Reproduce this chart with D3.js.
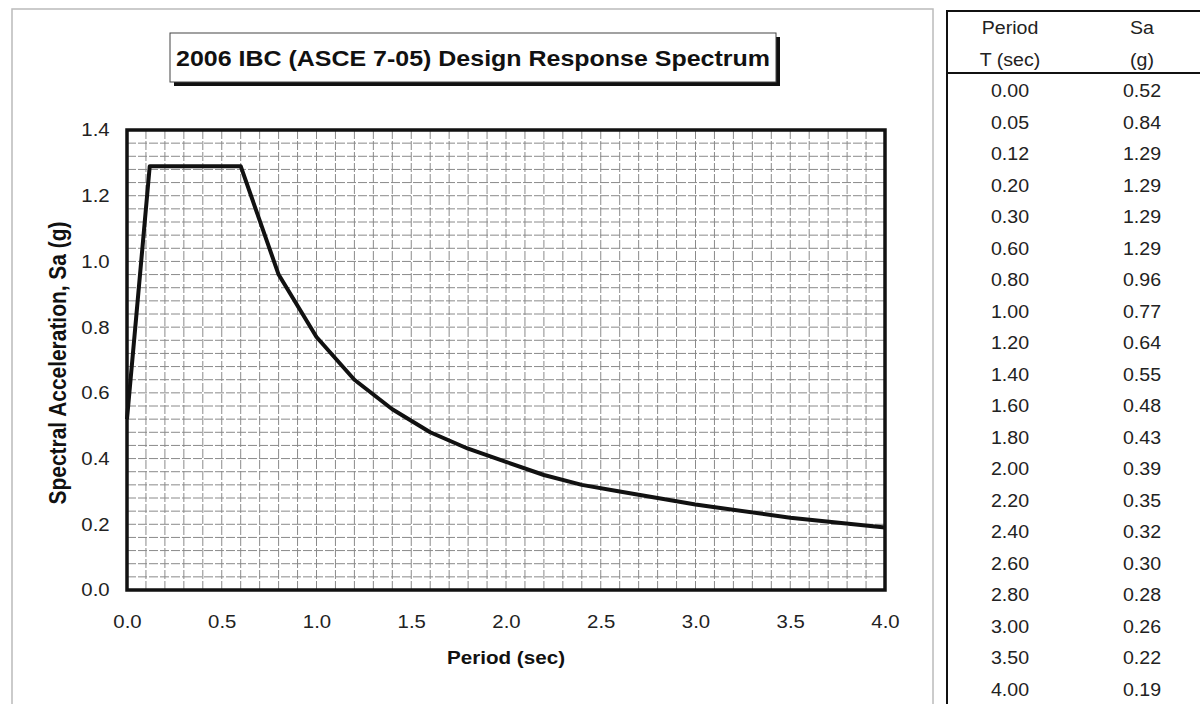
<!DOCTYPE html>
<html><head><meta charset="utf-8">
<script src="https://cdn.jsdelivr.net/npm/d3@7"></script>
<style>body{margin:0;background:#fff;} svg{display:block;font-family:"Liberation Sans",Arial,sans-serif;}</style>
</head><body>
<svg id="c" width="1200" height="704"></svg>
<script>
const periods = [0.00,0.05,0.12,0.20,0.30,0.60,0.80,1.00,1.20,1.40,1.60,1.80,2.00,2.20,2.40,2.60,2.80,3.00,3.50,4.00];
const saValues = [0.52,0.84,1.29,1.29,1.29,1.29,0.96,0.77,0.64,0.55,0.48,0.43,0.39,0.35,0.32,0.30,0.28,0.26,0.22,0.19];
const tablePeriods = ["0.00","0.05","0.12","0.20","0.30","0.60","0.80","1.00","1.20","1.40","1.60","1.80","2.00","2.20","2.40","2.60","2.80","3.00","3.50","4.00"];
const tableSa = ["0.52","0.84","1.29","1.29","1.29","1.29","0.96","0.77","0.64","0.55","0.48","0.43","0.39","0.35","0.32","0.30","0.28","0.26","0.22","0.19"];
const tableHeaders = [["Period","T (sec)"],["Sa","(g)"]];
const xTicks = [0.0,0.5,1.0,1.5,2.0,2.5,3.0,3.5,4.0];
const yTicks = [0.0,0.2,0.4,0.6,0.8,1.0,1.2,1.4];
const titleText = "2006 IBC (ASCE 7-05) Design Response Spectrum";
const xTitle = "Period (sec)";
const yTitle = "Spectral Acceleration, Sa (g)";

const svg = d3.select("#c");
const L = 127, R = 885, T = 130, B = 590;
const x = d3.scaleLinear().domain([0,4]).range([L,R]);
const y = d3.scaleLinear().domain([0,1.4]).range([B,T]);
const SX = 1.1;

// outer chart frame
svg.append("rect").attr("x",12).attr("y",9).attr("width",921).attr("height",710)
  .attr("fill","none").attr("stroke","#bbb").attr("stroke-width",1.5);

// grid
const g = svg.append("g");
g.selectAll("line.vx").data(d3.range(1,40).map(i=>i*0.1)).enter().append("line")
  .attr("x1",d=>x(d)).attr("x2",d=>x(d)).attr("y1",T).attr("y2",B)
  .attr("stroke","#8a8a8a").attr("stroke-width",1).attr("stroke-dasharray","9,2");
g.selectAll("line.hy").data(d3.range(1,35).map(i=>i*0.04)).enter().append("line")
  .attr("x1",L).attr("x2",R).attr("y1",d=>y(d)).attr("y2",d=>y(d))
  .attr("stroke","#8a8a8a").attr("stroke-width",1).attr("stroke-dasharray","9,2");

// plot border
svg.append("rect").attr("x",L).attr("y",T).attr("width",R-L).attr("height",B-T)
  .attr("fill","none").attr("stroke","#111").attr("stroke-width",3.5);

// axes labels via d3 axes
const xa = svg.append("g").attr("transform",`translate(0,${B+12})`)
  .call(d3.axisBottom(x).tickValues(xTicks).tickFormat(d3.format(".1f")).tickSize(0).tickPadding(13));
const ya = svg.append("g").attr("transform",`translate(114,0)`)
  .call(d3.axisLeft(y).tickValues(yTicks).tickFormat(d3.format(".1f")).tickSize(0).tickPadding(4));
[xa,ya].forEach(a=>{a.select(".domain").remove();
  a.selectAll("text").attr("font-size",18.5).attr("fill","#222")
   .attr("font-family","Liberation Sans, Arial, sans-serif").attr("transform",`scale(${SX},1)`);});
xa.selectAll("text").attr("dy","0").attr("y",26);

// line
svg.append("path").datum(periods.map((p,i)=>[p,saValues[i]]))
  .attr("d",d3.line().x(d=>x(d[0])).y(d=>y(d[1])))
  .attr("fill","none").attr("stroke","#111").attr("stroke-width",4).attr("stroke-linejoin","round");

// title box with shadow
svg.append("rect").attr("x",174).attr("y",37).attr("width",606).attr("height",49).attr("fill","#111");
svg.append("rect").attr("x",170).attr("y",33).attr("width",606).attr("height",49).attr("fill","#fff").attr("stroke","#444").attr("stroke-width",1);
svg.append("text").attr("x",473).attr("y",66).attr("text-anchor","middle").attr("font-size",22).attr("font-weight","bold").attr("fill","#111")
  .attr("textLength",594).attr("lengthAdjust","spacingAndGlyphs").text(titleText);

// axis titles
svg.append("text").attr("x",506).attr("y",664).attr("text-anchor","middle").attr("font-size",19).attr("font-weight","bold").attr("fill","#111")
  .attr("textLength",118).attr("lengthAdjust","spacingAndGlyphs").text(xTitle);
svg.append("text").attr("transform","translate(66,363) scale(1.12,1) rotate(-90)").attr("text-anchor","middle").attr("font-size",21).attr("font-weight","bold").attr("fill","#111")
  .attr("textLength",283).attr("lengthAdjust","spacingAndGlyphs").text(yTitle);

// table
const tb = svg.append("g");
tb.append("line").attr("x1",947).attr("x2",947).attr("y1",10).attr("y2",704).attr("stroke","#111").attr("stroke-width",2);
tb.append("line").attr("x1",946).attr("x2",1200).attr("y1",11).attr("y2",11).attr("stroke","#111").attr("stroke-width",2);
tb.append("line").attr("x1",946).attr("x2",1200).attr("y1",73).attr("y2",73).attr("stroke","#111").attr("stroke-width",2);
const cols = [1010, 1142];
const fs = 17.5;
function tText(str, cx, by){
  tb.append("g").attr("transform",`translate(${cx},${by}) scale(1.12,1)`)
    .append("text").attr("text-anchor","middle").attr("font-size",fs).attr("fill","#222").text(str);
}
tableHeaders.forEach((h,j)=>{ tText(h[0], cols[j], 34); tText(h[1], cols[j], 66); });
const ry = d3.scaleLinear().domain([0,tablePeriods.length-1]).range([97,696]);
tablePeriods.forEach((d,i)=>tText(d, cols[0], ry(i)));
tableSa.forEach((d,i)=>tText(d, cols[1], ry(i)));
</script>
</body></html>
